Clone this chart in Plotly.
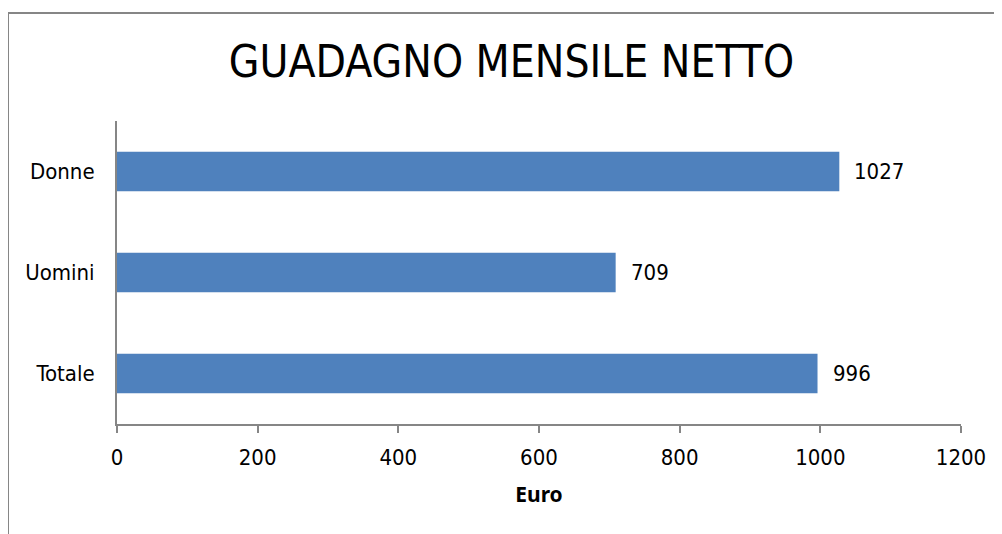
import plotly.graph_objects as go

categories = ["Totale", "Uomini", "Donne"]
values = [996, 709, 1027]
x_ticks = [0, 200, 400, 600, 800, 1000, 1200]

# page body has an 8px margin; work in reference coords and shift
OFF = 8
W, H = 1002 - OFF, 534 - OFF
L, R, T, B = 117 - OFF, 41, 121 - OFF, 110
pw, ph = W - L - R, H - T - B

font_narrow = "DejaVu Sans Condensed, Liberation Sans Narrow, Arial Narrow, sans-serif"

fig = go.Figure(go.Bar(
    y=categories, x=values, orientation="h",
    marker=dict(color="#4F81BD", line=dict(width=0)),
    width=0.39,
    cliponaxis=False,
))

for c, v in zip(categories, values):
    fig.add_annotation(x=v, y=c, text=str(v), showarrow=False, xanchor="left", yanchor="middle",
                       xshift=13, font=dict(family=font_narrow, size=22, color="#000000"))

def px(xp):
    return (xp - OFF - L) / pw

def py(yp):
    return (H - B - (yp - OFF)) / ph

fig.update_layout(
    width=W, height=H,
    margin=dict(l=L, r=R, t=T, b=B, autoexpand=False),
    paper_bgcolor="white", plot_bgcolor="white",
    showlegend=False,
    title=dict(text="GUADAGNO MENSILE NETTO", x=(0.5 * (230 + 793) - OFF) / W, xanchor="center",
               y=1 - (62 - OFF) / H, yanchor="middle",
               font=dict(family=font_narrow, size=44, color="#000000")),
    xaxis=dict(range=[0, 1200], tickvals=x_ticks, ticktext=[str(t) for t in x_ticks],
               showgrid=False, zeroline=False, showline=True, linecolor="#868686", linewidth=2,
               ticks="outside", ticklen=7, tickwidth=2, tickcolor="#868686",
               ticklabelstandoff=6,
               tickfont=dict(family=font_narrow, size=22, color="#000000"),
               title=dict(text="<b>Euro</b>", font=dict(family="Noto Sans, sans-serif", size=21, color="#000000"), standoff=18)),
    yaxis=dict(showgrid=False, zeroline=False, showline=True, linecolor="#868686", linewidth=2,
               ticks="", tickfont=dict(family=font_narrow, size=22, color="#000000"),
               ticklabelstandoff=16),
    shapes=[
        dict(type="line", xref="paper", yref="paper", x0=px(8), x1=px(1010), y0=py(13), y1=py(13),
             line=dict(color="#868686", width=2)),
        dict(type="line", xref="paper", yref="paper", x0=px(8), x1=px(8), y0=py(13), y1=py(540),
             line=dict(color="#868686", width=2)),
    ],
)

fig.write_html("out.html")
